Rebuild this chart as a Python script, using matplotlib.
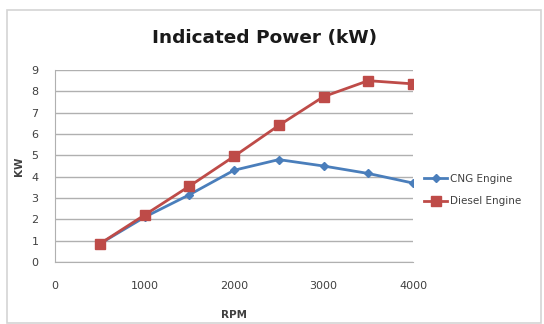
import matplotlib.pyplot as plt
from matplotlib.patches import Rectangle

rpm = [500, 1000, 1500, 2000, 2500, 3000, 3500, 4000]
cng_kw = [0.85, 2.1, 3.15, 4.3, 4.8, 4.5, 4.15, 3.7]
diesel_kw = [0.85, 2.2, 3.55, 4.95, 6.4, 7.75, 8.5, 8.35]

W, H = 544, 324
fig = plt.figure(figsize=(W / 100, H / 100), dpi=100)

# outer chart frame
fig.patches.append(Rectangle((7 / W, 1.5 / H), 534 / W, 313 / H, transform=fig.transFigure,
                             fill=False, edgecolor="#d4d4d4", linewidth=1.2))

ax = fig.add_axes([55 / W, (H - 262) / H, 358 / W, 192 / H])
ax.plot(rpm, cng_kw, color="#4a7ebb", marker="D", markersize=4.5, linewidth=2,
        label="CNG Engine")
ax.plot(rpm, diesel_kw, color="#be4b48", marker="s", markersize=6.5, linewidth=2,
        label="Diesel Engine")

ax.set_xlim(0, 4000)
ax.set_ylim(0, 9)
ax.set_xticks([0, 1000, 2000, 3000, 4000])
ax.set_yticks(range(10))
ax.grid(axis="y", color="#b0b0b0", linewidth=1)
ax.set_axisbelow(True)
for s in ["top", "right"]:
    ax.spines[s].set_visible(False)
for s in ["left", "bottom"]:
    ax.spines[s].set_color("#b0b0b0")
ax.tick_params(length=0, labelsize=8, colors="#404040")
ax.tick_params(axis="y", pad=12)
ax.tick_params(axis="x", pad=14)

ax.set_xlabel("RPM", fontsize=7.5, fontweight="bold", color="#404040", labelpad=13)
ax.set_ylabel("KW", fontsize=7.5, fontweight="bold", color="#404040", labelpad=5)

fig.text(265 / W, 1 - 38 / H, "Indicated Power (kW)", ha="center", va="center",
         fontsize=13.3, fontweight="bold", color="#1a1a1a")

fig.legend(loc="center left", bbox_to_anchor=(415 / W, 1 - 190 / H), frameon=False,
           fontsize=7.5, handlelength=2.2, handletextpad=0.3, labelspacing=1.2,
           labelcolor="#404040")

fig.savefig("out.png", dpi=100)
